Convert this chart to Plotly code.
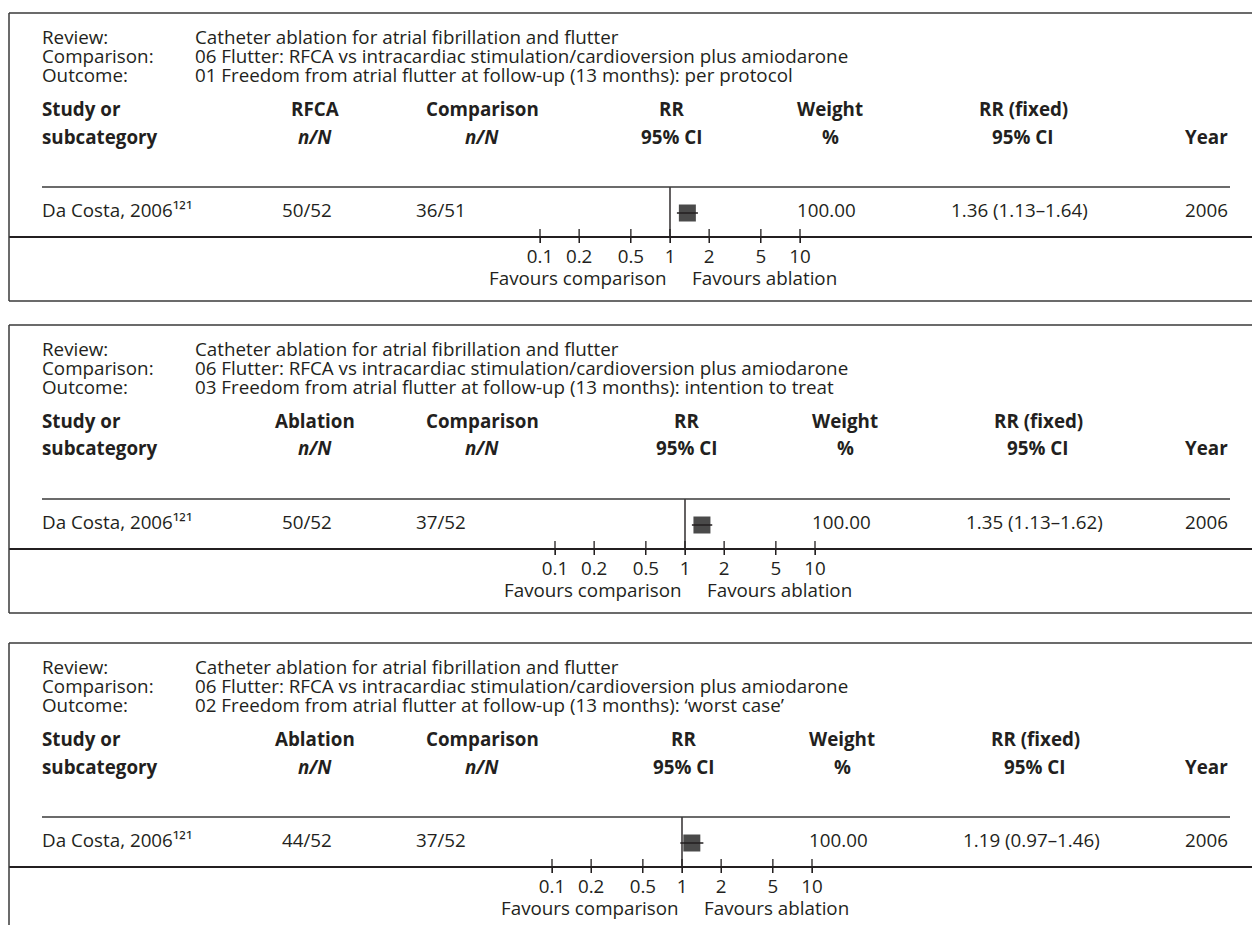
import plotly.graph_objects as go

# ---- data -------------------------------------------------------------
review = "Catheter ablation for atrial fibrillation and flutter"
comparison = "06 Flutter: RFCA vs intracardiac stimulation/cardioversion plus amiodarone"
outcomes = [
    "01 Freedom from atrial flutter at follow-up (13 months): per protocol",
    "03 Freedom from atrial flutter at follow-up (13 months): intention to treat",
    "02 Freedom from atrial flutter at follow-up (13 months): \u2018worst case\u2019",
]
treatment_labels = ["RFCA", "Ablation", "Ablation"]
study_name = "Da Costa, 2006"
study_ref = "\u00b9\u00b2\u00b9"          # reference number 121, superscript digits
treat_events = [50, 50, 44]
treat_total = [52, 52, 52]
ctrl_events = [36, 37, 37]
ctrl_total = [51, 52, 52]
rr = [1.36, 1.35, 1.19]
ci_low = [1.13, 1.13, 0.97]
ci_high = [1.64, 1.62, 1.46]
weight = [100.00, 100.00, 100.00]
years = [2006, 2006, 2006]
tick_values = [0.1, 0.2, 0.5, 1, 2, 5, 10]
tick_labels = ["0.1", "0.2", "0.5", "1", "2", "5", "10"]

# ---- page geometry (pixels) ------------------------------------------
W, H = 1252, 925
FONT = "Open Sans"
FS = 18.8
INK = "#231f20"
BORDER = "#3a3a3a"
panel_dy = [0, 312, 630]        # vertical offset of each panel
panel_dx = [0, 15, 12]          # horizontal offset of the plot columns
x_one = 670                      # pixel of RR = 1 in the first panel
decade = 130                     # pixels per decade on the RR axis
axis_y = 236                     # pixel row of the RR axis line
head_y = 187                     # pixel row of the header rule
row_y = 23                       # study row height above the axis (px units)
PAD = 2                          # annotation box padding
LIFT = 1.5                       # optical correction for the text baseline


def px(x):
    return x / W


def py(y):
    return 1 - y / H


fig = go.Figure()
annotations = []
shapes = []


def text(x, y, s, anchor="left", bold=False, italic=False, size=FS):
    if anchor == "left":
        x -= PAD
    elif anchor == "right":
        x += PAD
    font = dict(family=FONT, size=size, color=INK)
    if bold:
        font["weight"] = "bold"
    if italic:
        font["style"] = "italic"
    annotations.append(dict(
        x=px(x), y=py(y - LIFT), xref="paper", yref="paper", text=s,
        showarrow=False, xanchor=anchor, yanchor="middle", font=font,
    ))


def hline(x0, x1, y, width=1.5, color=BORDER):
    shapes.append(dict(type="line", xref="paper", yref="paper",
                       x0=px(x0), x1=px(x1), y0=py(y), y1=py(y),
                       line=dict(color=color, width=width)))


def vline(x, y0, y1, width=1.5, color=BORDER):
    shapes.append(dict(type="line", xref="paper", yref="paper",
                       x0=px(x), x1=px(x), y0=py(y0), y1=py(y1),
                       line=dict(color=color, width=width)))


for k in range(3):
    dy, dx = panel_dy[k], panel_dx[k]
    xa, ya = f"x{k + 1}", f"y{k + 1}"
    c = x_one + dx

    # frame of the panel (open to the right edge)
    top = 13 + dy
    bottom = 301 + dy if k < 2 else H + 5
    hline(9, W + 2, top)
    if k < 2:
        hline(9, W + 2, bottom)
    vline(9, top, bottom)

    # review / comparison / outcome block
    for j, (lab, val) in enumerate([("Review:", review),
                                    ("Comparison:", comparison),
                                    ("Outcome:", outcomes[k])]):
        yy = 38.5 + 19.2 * j + dy
        text(42, yy, lab)
        text(195, yy, val)

    # column headers
    h1, h2 = 110.5 + dy, 138 + dy
    text(42, h1, "Study or", bold=True)
    text(42, h2, "subcategory", bold=True)
    text(315, h1, treatment_labels[k], anchor="center", bold=True)
    text(315, h2, "n/N", anchor="center", bold=True, italic=True)
    text(482, h1, "Comparison", anchor="center", bold=True)
    text(482, h2, "n/N", anchor="center", bold=True, italic=True)
    text(671 + dx, h1, "RR", anchor="center", bold=True)
    text(671 + dx, h2, "95% CI", anchor="center", bold=True)
    text(830 + dx, h1, "Weight", anchor="center", bold=True)
    text(830 + dx, h2, "%", anchor="center", bold=True)
    text(1023 + dx, h1, "RR (fixed)", anchor="center", bold=True)
    text(1022 + dx, h2, "95% CI", anchor="center", bold=True)
    text(1228, h2, "Year", anchor="right", bold=True)
    hline(42, 1230, head_y + dy)

    # study row
    ry = 211.5 + dy
    text(42, ry, f"{study_name}{study_ref}")
    text(282, ry, f"{treat_events[k]}/{treat_total[k]}")
    text(416, ry, f"{ctrl_events[k]}/{ctrl_total[k]}")
    text(826 + dx, ry, f"{weight[k]:.2f}", anchor="center")
    text(1019 + dx, ry,
         f"{rr[k]:.2f} ({ci_low[k]:.2f}\u2013{ci_high[k]:.2f})", anchor="center")
    text(1228, ry, str(years[k]), anchor="right")

    # favours labels under the axis
    fy = 279.5 + dy
    text(667 + dx, fy, "Favours comparison", anchor="right")
    text(692 + dx, fy, "Favours ablation", anchor="left")

    # RR axis: log scale, 130 px per decade, RR = 1 at pixel c
    span = head_y - axis_y
    fig.update_layout(**{
        f"xaxis{k + 1}": dict(
            type="log", domain=[px(9), 1],
            range=[(9 - c) / decade, (W - c) / decade],
            anchor=ya, tickvals=tick_values, ticktext=tick_labels,
            ticks="outside", ticklen=5, tickwidth=1.3, tickcolor=INK,
            ticklabelstandoff=-2,
            showline=True, linecolor=INK, linewidth=1.5,
            showgrid=False, zeroline=False, fixedrange=True,
            tickfont=dict(family=FONT, size=FS, color=INK),
        ),
        f"yaxis{k + 1}": dict(
            domain=[py(axis_y + dy), py(head_y + dy)],
            range=[0, -span], anchor=xa, visible=False, fixedrange=True,
        ),
    })

    # line of no effect
    fig.add_trace(go.Scatter(x=[1, 1], y=[0, -span], mode="lines",
                             line=dict(color=INK, width=1.4),
                             xaxis=xa, yaxis=ya, hoverinfo="skip"))
    # tick marks crossing the axis line
    fig.add_trace(go.Scatter(x=tick_values, y=[0] * len(tick_values),
                             mode="markers", cliponaxis=False,
                             marker=dict(symbol="line-ns", size=10,
                                         line=dict(color=INK, width=1.3)),
                             xaxis=xa, yaxis=ya, hoverinfo="skip"))
    # study estimate (weighted square) and its confidence interval
    fig.add_trace(go.Scatter(x=[rr[k]], y=[row_y], mode="markers",
                             marker=dict(symbol="square", size=17,
                                         color="#4a4a4a",
                                         line=dict(width=0)),
                             xaxis=xa, yaxis=ya))
    fig.add_trace(go.Scatter(x=[ci_low[k], ci_high[k]], y=[row_y, row_y],
                             mode="lines", line=dict(color=INK, width=1.5),
                             xaxis=xa, yaxis=ya))

fig.update_layout(
    width=W, height=H, margin=dict(l=0, r=0, t=0, b=0),
    paper_bgcolor="white", plot_bgcolor="rgba(0,0,0,0)",
    showlegend=False, annotations=annotations, shapes=shapes,
    font=dict(family=FONT, size=FS, color=INK),
)

fig.write_html("out.html")
